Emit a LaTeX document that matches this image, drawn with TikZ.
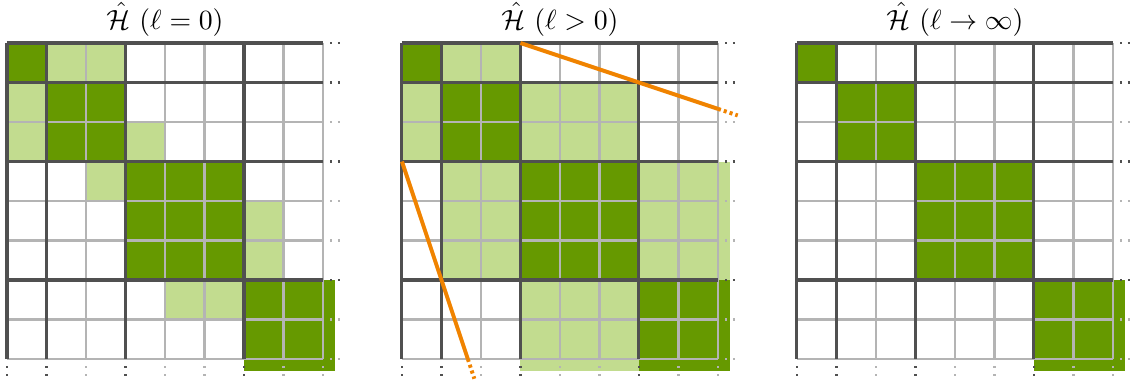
\documentclass[tikz,border=0pt]{standalone}
\usepackage{amsmath}

\definecolor{dkgreen}{HTML}{669900}
\definecolor{ltgreen}{HTML}{C2DC8F}
\definecolor{dkline}{HTML}{505050}
\definecolor{ltline}{HTML}{B4B4B4}
\definecolor{cutorange}{HTML}{F08300}

\tikzset{
  thinline/.style={ltline, line width=1pt},
  thickline/.style={dkline, line width=1.1pt},
  moredots/.style={line width=0.9pt, dash pattern=on 0.7pt off 2.15pt},
  cutline/.style={cutorange, line width=1.4pt},
  cutdots/.style={cutorange, line width=1.4pt, dash pattern=on 1.1pt off 1.1pt},
}

\begin{document}
\begin{tikzpicture}[x=0.5cm,y=-0.5cm]
\useasboundingbox (-0.177,-1.089) rectangle (28.61,8.61);

% panel 1: short range
\fill[ltgreen] (1,0) rectangle (3,1);
\fill[ltgreen] (0,1) rectangle (1,3);
\fill[ltgreen] (3,2) rectangle (4,3);
\fill[ltgreen] (2,3) rectangle (3,4);
\fill[ltgreen] (6,4) rectangle (7,6);
\fill[ltgreen] (4,6) rectangle (6,7);

% panel 2: neighbouring blocks
\begin{scope}[shift={(10,0)}]
\fill[ltgreen] (1,0) rectangle (3,1);
\fill[ltgreen] (0,1) rectangle (1,3);
\fill[ltgreen] (3,1) rectangle (6,3);
\fill[ltgreen] (1,3) rectangle (3,6);
\fill[ltgreen] (6,3) rectangle (8.3,6);
\fill[ltgreen] (3,6) rectangle (6,8.3);
\end{scope}

% diagonal blocks and grids
\foreach \p in {0,10,20} {
  \begin{scope}[shift={(\p,0)}]
  \fill[dkgreen] (0,0) rectangle (1,1);
  \fill[dkgreen] (1,1) rectangle (3,3);
  \fill[dkgreen] (3,3) rectangle (6,6);
  \fill[dkgreen] (6,6) rectangle (8.3,8.3);
  \foreach \i in {2,4,5,7,8} {
    \draw[thinline] (\i,0) -- (\i,8);
    \draw[thinline] (0,\i) -- (8,\i);
    \draw[moredots, ltline] (\i,8.18) -- (\i,8.45);
    \draw[moredots, ltline] (8.18,\i) -- (8.45,\i);
  }
  \foreach \i in {0,1,3,6} {
    \draw[thickline] (\i,0) -- (\i,8);
    \draw[thickline] (0,\i) -- (8,\i);
    \draw[moredots, dkline] (\i,8.18) -- (\i,8.45);
    \draw[moredots, dkline] (8.18,\i) -- (8.45,\i);
  }
  \end{scope}
}

% cut-off lines
\coordinate (topA) at (13,0);
\coordinate (topB) at (18,1.6667);
\coordinate (topC) at (18.5,1.8333);
\coordinate (leftA) at (10,3);
\coordinate (leftB) at (11.6667,8);
\coordinate (leftC) at (11.8333,8.5);
\draw[cutline] (topA) -- (topB);
\draw[cutdots] (topB) -- (topC);
\draw[cutline] (leftA) -- (leftB);
\draw[cutdots] (leftB) -- (leftC);

\node (ttlzero) at (4,-0.6) {$\hat{\mathcal{H}}\ (\ell = 0)$};
\node (ttlpos) at (14,-0.6) {$\hat{\mathcal{H}}\ (\ell > 0)$};
\node (ttlinf) at (24,-0.6) {$\hat{\mathcal{H}}\ (\ell \to \infty)$};
\end{tikzpicture}
\end{document}
